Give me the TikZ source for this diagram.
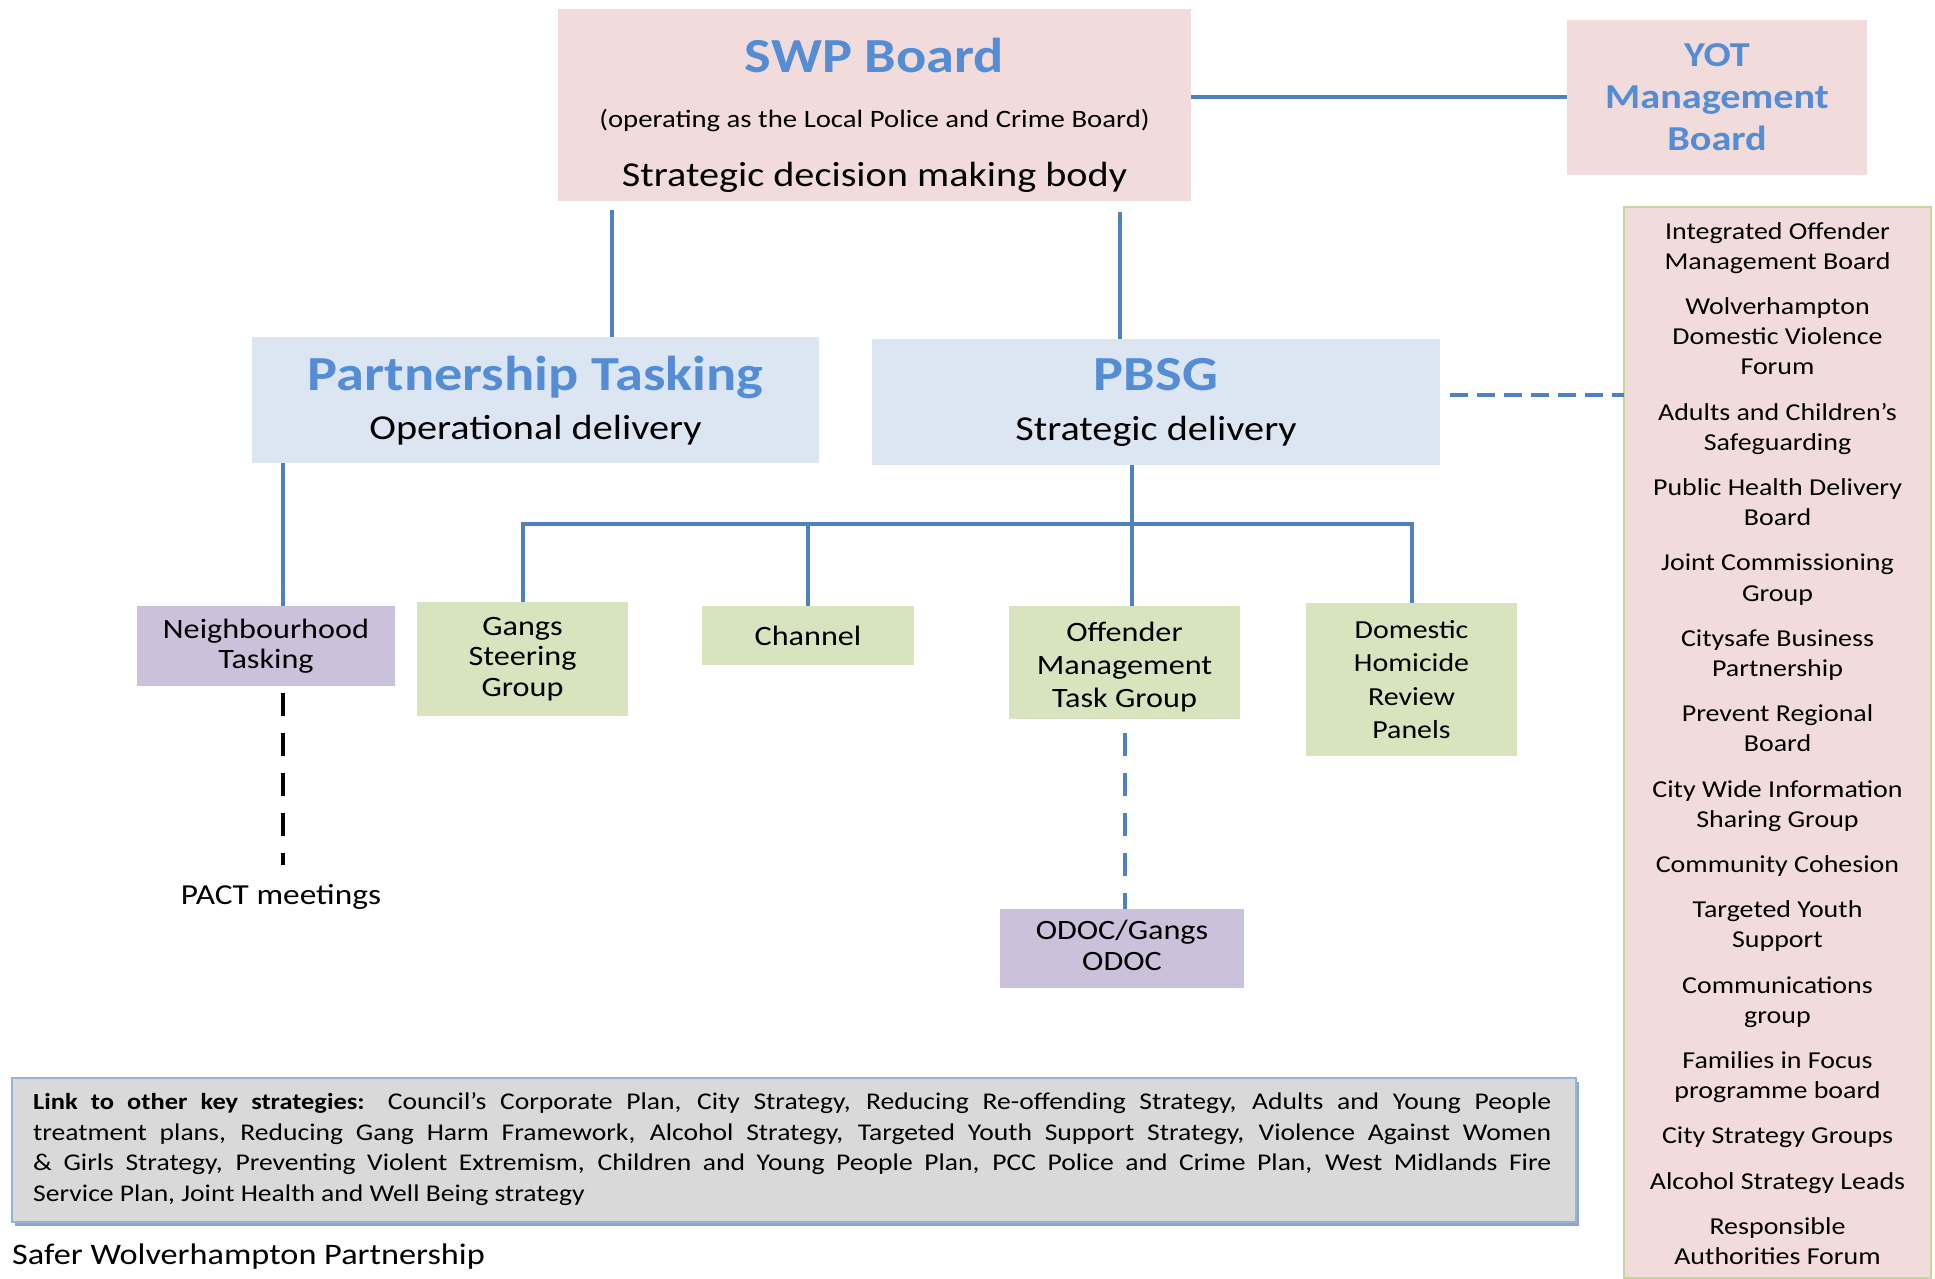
\documentclass[tikz,border=0pt]{standalone}
\usepackage{fontspec}
\setmainfont{Carlito}[FakeStretch=1.15]
\definecolor{pinkf}{HTML}{F2DCDB}
\definecolor{bluef}{HTML}{DCE6F2}
\definecolor{greenf}{HTML}{D7E4BD}
\definecolor{purplef}{HTML}{CCC1DA}
\definecolor{grayf}{HTML}{D9D9D9}
\definecolor{lineblue}{HTML}{4F81BD}
\definecolor{titleblue}{HTML}{548DD4}
\definecolor{listborder}{HTML}{C3D69B}
\definecolor{linkborder}{HTML}{95B3D7}
\definecolor{linkshadow}{HTML}{8EA6C8}
\newcommand{\myfs}[2]{\fontsize{#1}{#2}\selectfont}
\tikzset{
  boxbase/.style={rectangle, inner sep=0pt, outer sep=0pt, align=center},
  pinkbox/.style={boxbase, fill=pinkf},
  bluebox/.style={boxbase, fill=bluef},
  greenbox/.style={boxbase, fill=greenf, font=\myfs{28}{33}},
  purplebox/.style={boxbase, fill=purplef, font=\myfs{28}{31}},
  titletxt/.style={inner sep=0pt, text=titleblue, font=\myfs{49}{55}\bfseries},
  plaintxt/.style={inner sep=0pt},
  conn/.style={draw=lineblue, line width=4pt},
  bluedash/.style={draw=lineblue, line width=4pt, dash pattern=on 18pt off 9pt},
  bluedashb/.style={draw=lineblue, line width=4pt, dash pattern=on 23pt off 17pt},
  blackdash/.style={draw=black, line width=4pt, dash pattern=on 23pt off 17pt},
}
\begin{document}
\begin{tikzpicture}[x=1pt,y=-1pt]
\useasboundingbox (0,0) rectangle (1935,1279);
% top boxes
\node[pinkbox, minimum width=633pt, minimum height=192pt] (swp) at (874.5,105) {};
\node[titletxt, anchor=base] (swpt) at (874.5,73) {SWP Board};
\node[plaintxt, anchor=base, font=\myfs{25}{28}] (swpo) at (874.5,128) {(operating as the Local Police and Crime Board)};
\node[plaintxt, anchor=base, font=\myfs{35}{40}] (swps) at (874.5,186) {Strategic decision making body};

\node[pinkbox, minimum width=300pt, minimum height=155pt, text=titleblue, font=\myfs{35}{42}\bfseries] (yot) at (1717,97.5) {YOT\\Management\\Board};

% right list
\node[boxbase, fill=pinkf, draw=listborder, line width=2pt, minimum width=307pt, minimum height=1071pt] (lst) at (1777.5,742.5) {};
\node[plaintxt, align=center, anchor=north, font=\myfs{24.3}{30.2}] (lsttxt) at (1777.5,222) {Integrated Offender\\Management Board\\[15pt]
Wolverhampton\\Domestic Violence\\Forum\\[15pt]
Adults and Children's\\Safeguarding\\[15pt]
Public Health Delivery\\Board\\[15pt]
Joint Commissioning\\Group\\[15pt]
Citysafe Business\\Partnership\\[15pt]
Prevent Regional\\Board\\[15pt]
City Wide Information\\Sharing Group\\[15pt]
Community Cohesion\\[15pt]
Targeted Youth\\Support\\[15pt]
Communications\\group\\[15pt]
Families in Focus\\programme board\\[15pt]
City Strategy Groups\\[15pt]
Alcohol Strategy Leads\\[15pt]
Responsible\\Authorities Forum};

% middle level
\node[bluebox, minimum width=567pt, minimum height=126pt] (pt) at (535.5,400) {};
\node[titletxt, anchor=base] (ptt) at (535.5,390) {Partnership Tasking};
\node[plaintxt, anchor=base, font=\myfs{35}{40}] (pts) at (535.5,439) {Operational delivery};

\node[bluebox, minimum width=568pt, minimum height=126pt] (pbsg) at (1156,402) {};
\node[titletxt, anchor=base] (pbsgt) at (1156,390) {PBSG};
\node[plaintxt, anchor=base, font=\myfs{35}{40}] (pbsgs) at (1156,440) {Strategic delivery};

% lower boxes
\node[purplebox, minimum width=258pt, minimum height=80pt, font=\myfs{28}{30}] (nt) at (266,646) {Neighbourhood\\Tasking};
\node[greenbox, minimum width=211pt, minimum height=114pt, font=\myfs{28}{30.2}] (gangs) at (522.5,659) {Gangs\\Steering\\Group};
\node[greenbox, minimum width=212pt, minimum height=59pt] (chan) at (808,635.5) {Channel};
\node[greenbox, minimum width=231pt, minimum height=113pt] (om) at (1124.5,662.5) {};
\node[plaintxt, align=center, font=\myfs{28}{33}] (omt) at (1124.5,667) {Offender\\Management\\Task Group};
\node[greenbox, minimum width=211pt, minimum height=153pt, font=\myfs{26}{33.5}] (dhrp) at (1411.5,679.5) {Domestic\\Homicide\\Review\\Panels};
\node[purplebox, minimum width=244pt, minimum height=79pt] (odoc) at (1122,948.5) {};
\node[plaintxt, align=center, font=\myfs{28}{31}] (odoct) at (1122,945) {ODOC/Gangs\\ODOC};
\node[plaintxt, anchor=base, font=\myfs{29}{33}] (pact) at (281,904) {PACT meetings};

% link box
\node[boxbase, fill=linkshadow, minimum width=1564pt, minimum height=144pt] (linksh) at (797,1154) {};
\node[boxbase, fill=grayf, draw=linkborder, line width=1.5pt, minimum width=1564pt, minimum height=144pt] (link) at (794,1150) {};
\node[plaintxt, anchor=north west, align=left, font=\myfs{24}{30.5}] (linktxt) at (33,1092.5) {%
\makebox[1518pt][s]{{\fontsize{23}{30.5}\selectfont\textbf{Link to other key strategies:}} Council’s Corporate Plan, City Strategy, Reducing Re-offending Strategy, Adults and Young People}\\
\makebox[1518pt][s]{treatment plans, Reducing Gang Harm Framework, Alcohol Strategy, Targeted Youth Support Strategy, Violence Against Women}\\
\makebox[1518pt][s]{\& Girls Strategy, Preventing Violent Extremism, Children and Young People Plan, PCC Police and Crime Plan, West Midlands Fire}\\
Service Plan, Joint Health and Well Being strategy};
\node[plaintxt, anchor=base west, font=\myfs{29.8}{33}] (swpfoot) at (12,1264) {Safer Wolverhampton Partnership};

% connectors
\coordinate (xa) at (612,0);
\coordinate (xb) at (1120,0);
\coordinate (xc) at (283,0);
\coordinate (xd) at (1132,0);
\coordinate (xe) at (1125,0);
\coordinate (bus) at (0,524);
\coordinate (yd) at (0,395);
\draw[conn] (yot.west) -- (yot.west -| swp.east);
\draw[conn, shorten <=9pt] (swp.south -| xa) -- (pt.north -| xa);
\draw[conn, shorten <=11pt] (swp.south -| xb) -- (pbsg.north -| xb);
\draw[conn] (pt.south -| xc) -- (nt.north -| xc);
\draw[blackdash, shorten <=7pt, shorten >=19pt] (nt.south -| xc) -- (pact.north -| xc);
\draw[conn] (pbsg.south -| xd) -- (om.north -| xd);
\draw[conn] (gangs.north) -- (gangs.north |- bus) -- (dhrp.north |- bus) -- (dhrp.north);
\draw[conn] (chan.north) -- (chan.north |- bus);
\draw[bluedashb, shorten <=14pt] (om.south -| xe) -- (odoc.north -| xe);
\draw[bluedash, shorten <=10pt] (pbsg.east |- yd) -- (lst.west |- yd);
\end{tikzpicture}
\end{document}
